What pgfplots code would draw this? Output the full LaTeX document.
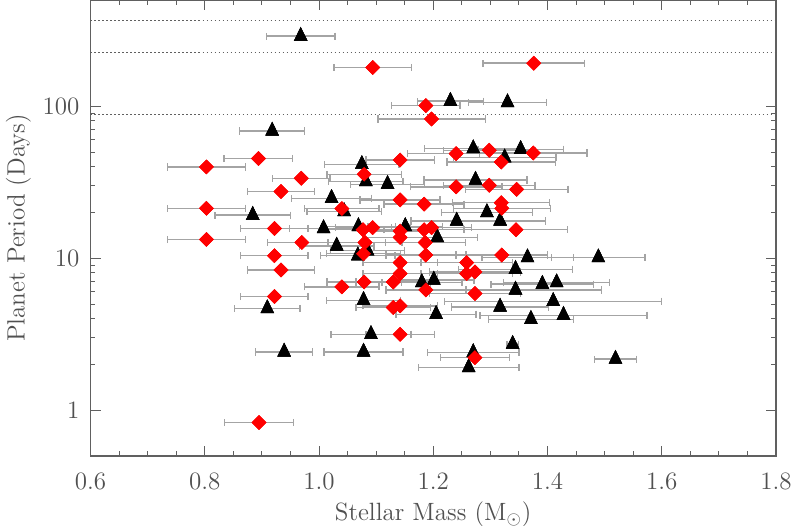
\documentclass[border=0pt]{standalone}
\usepackage{pgfplots}
\usepackage{pgfplotstable}
\pgfplotsset{compat=1.18}
\definecolor{txtgray}{HTML}{505050}
\definecolor{axgray}{HTML}{606060}
\definecolor{barg}{HTML}{A4A4A4}
\pgfplotstableread{
x y ex
0.968 289 0.060
1.230 108 0.058
1.330 105.8 0.068
0.918 68.8 0.057
1.075 41.5 0.065
1.082 32.0 0.065
1.120 30.7 0.065
1.274 32.7 0.09
1.270 52.7 0.085
1.353 52.1 0.075
1.325 45.9 0.09
1.022 24.8 0.07
1.044 20.3 0.065
0.884 19.2 0.066
1.008 15.7 0.06
1.069 16.2 0.065
1.151 16.2 0.065
1.294 20.0 0.08
1.241 17.6 0.08
1.317 17.6 0.08
1.207 13.7 0.07
1.031 12.05 0.065
1.068 10.4 0.065
1.085 11.2 0.065
1.365 10.1 0.08
1.489 10.1 0.082
1.344 8.47 0.10
1.180 6.92 0.07
1.201 7.2 0.07
1.391 6.75 0.09
1.416 6.92 0.093
1.344 6.19 0.15
1.078 5.29 0.065
1.410 5.21 0.19
1.317 4.78 0.085
1.205 4.28 0.07
1.371 3.97 0.074
1.428 4.22 0.146
0.9095 4.67 0.057
1.091 3.16 0.07
1.339 2.72 0.01
0.939 2.42 0.05
1.078 2.42 0.069
1.270 2.40 0.08
1.262 1.91 0.088
1.519 2.17 0.037
}\tri
\pgfplotstableread{
x y ex
1.094 180 0.068
1.376 192 0.089
1.187 101 0.06
1.197 82.5 0.094
0.894 45.3 0.06
0.803 39.9 0.068
1.142 44.3 0.06
1.240 48.8 0.085
1.298 51.3 0.08
1.375 49.3 0.094
1.319 43.0 0.095
1.079 35.7 0.065
0.969 33.6 0.05
0.9335 27.5 0.059
1.240 29.5 0.08
1.298 30.2 0.08
1.346 28.4 0.09
1.142 24.2 0.07
1.184 22.7 0.07
1.319 23.2 0.085
1.320 21.3 0.085
1.040 21.2 0.065
0.803 21.3 0.068
0.922 15.7 0.059
1.077 15.4 0.065
1.094 15.9 0.065
1.142 15.1 0.065
1.184 15.4 0.07
1.197 15.9 0.07
1.345 15.4 0.09
0.803 13.3 0.068
0.970 12.7 0.06
1.0805 12.7 0.065
1.142 13.7 0.065
1.186 12.7 0.07
1.078 10.7 0.065
0.922 10.4 0.059
1.187 10.5 0.07
1.320 10.5 0.08
1.142 9.37 0.065
1.2585 9.37 0.08
0.9335 8.38 0.059
1.142 7.93 0.065
1.2585 7.93 0.08
1.273 8.13 0.08
1.079 6.98 0.065
1.130 6.98 0.065
1.040 6.48 0.065
1.187 6.19 0.07
1.273 5.86 0.08
0.922 5.6 0.059
1.130 4.74 0.065
1.142 4.86 0.065
1.142 3.16 0.06
1.273 2.22 0.06
0.895 0.83 0.06
}\dia
\begin{document}
\begin{tikzpicture}
\begin{axis}[
  scale only axis,
  width=342.75pt, height=228pt,
  xmin=0.6, xmax=1.8, ymin=0.5, ymax=500,
  ymode=log,
  log ticks with fixed point,
  xtick={0.6,0.8,1.0,1.2,1.4,1.6,1.8},
  xticklabels={0.6,0.8,1.0,1.2,1.4,1.6,1.8},
  minor x tick num=3,
  ytick={1,10,100},
  yticklabels={1,10,100},
  xtick pos=both, ytick pos=both,
  major tick length=5pt, minor tick length=2.5pt,
  every tick/.style={axgray, line width=0.5pt},
  axis line style={axgray, line width=0.6pt},
  tick label style={font=\fontsize{12.5}{14}\selectfont, text=txtgray},
  label style={font=\fontsize{12.5}{14}\selectfont, text=txtgray},
  xticklabel style={yshift=-5pt},
  yticklabel style={xshift=-2pt},
  xlabel={Stellar Mass (M$_\odot$)},
  ylabel={Planet Period (Days)},
  xlabel style={yshift=1pt},
  ylabel style={yshift=-1pt},
  clip=true,
  error bars/error bar style={color=barg, line width=0.7pt, solid},
  error bars/error mark=|,
  error bars/error mark options={color=barg, line width=0.7pt, mark size=1.8pt, rotate=0},
]
\coordinate (ll) at (rel axis cs:0,0);
\coordinate (ur) at (rel axis cs:1,1);
\addplot[axgray, dash pattern=on 0.6pt off 1.4pt, line width=0.5pt] coordinates {(0.6,88) (1.8,88)};
\addplot[axgray, dash pattern=on 0.6pt off 1.4pt, line width=0.5pt] coordinates {(0.6,225) (1.8,225)};
\addplot[axgray, dash pattern=on 0.6pt off 1.4pt, line width=0.5pt] coordinates {(0.6,365) (1.8,365)};
\addplot[only marks, black, mark=triangle*, mark size=4.4pt,
  mark options={fill=black, draw=black, xscale=0.85, line width=0.2pt},
  error bars/.cd, x dir=both, x explicit]
  table[x=x, y=y, x error=ex] {\tri};
\addplot[only marks, red, mark=square*, mark size=2.5pt,
  mark options={fill=red, draw=red, rotate=45, line width=0.2pt},
  error bars/.cd, x dir=both, x explicit]
  table[x=x, y=y, x error=ex] {\dia};
\addplot[only marks, mark=triangle*, mark size=4.4pt,
  mark options={fill=black, draw=black, xscale=0.85, line width=0.2pt}]
  table[x=x, y=y] {\tri};
\addplot[only marks, mark=square*, mark size=2.5pt,
  mark options={fill=red, draw=red, rotate=45, line width=0.2pt}]
  table[x=x, y=y] {\dia};
\end{axis}
\pgfresetboundingbox
\path[use as bounding box] ([shift={(-45.25pt,-34.5pt)}]ll) rectangle ([shift={(7.5pt,0pt)}]ur);
\end{tikzpicture}
\end{document}
